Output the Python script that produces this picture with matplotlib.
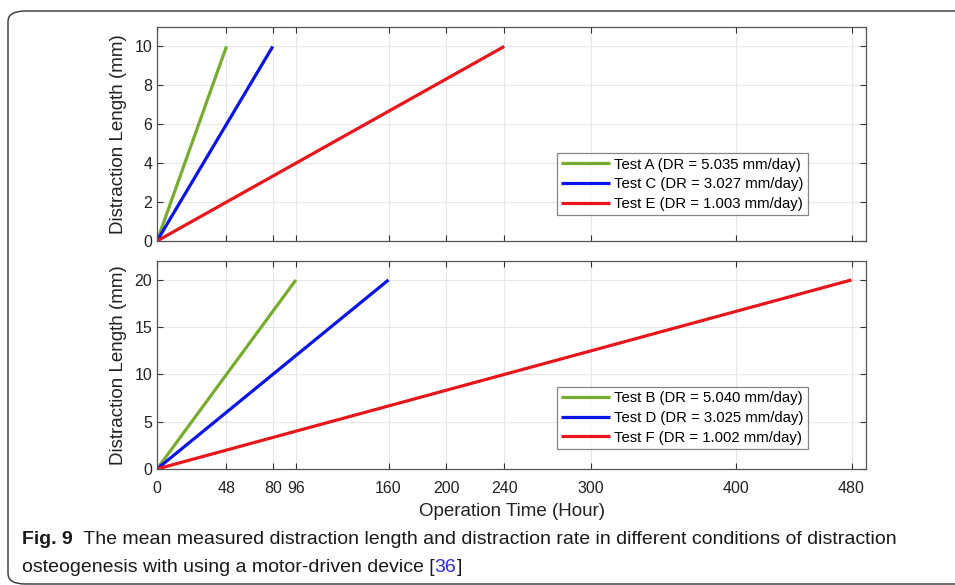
import numpy as np
import matplotlib
matplotlib.use("Agg")
from matplotlib import pyplot as plt
from matplotlib.patches import FancyBboxPatch

# data: (end time in hours, end length in mm), all start at 0
top_labels = ["Test A (DR = 5.035 mm/day)", "Test C (DR = 3.027 mm/day)", "Test E (DR = 1.003 mm/day)"]
top_hours = [48, 80, 240]
top_mm = [10, 10, 10]

bot_labels = ["Test B (DR = 5.040 mm/day)", "Test D (DR = 3.025 mm/day)", "Test F (DR = 1.002 mm/day)"]
bot_hours = [96, 160, 480]
bot_mm = [20, 20, 20]

colors = ["#77AC30", "#0A14E6", "#E8161B"]
xticks = [0, 48, 80, 96, 160, 200, 240, 300, 400, 480]

plt.rcParams['font.family'] = ['Liberation Sans', 'DejaVu Sans']

W, H = 955, 585
fig = plt.figure(figsize=(W/100, H/100), dpi=100)

# rounded frame around the whole figure (cut off on the right)
box = FancyBboxPatch((8/W, 1 - 584/H), 1.2, (584-11)/H,
                     boxstyle="round,pad=0,rounding_size=0.018",
                     transform=fig.transFigure, fc="none", ec="#333333", lw=1.0)
fig.patches.append(box)

def make_ax(rect, hours, mm, labels, ylim, yticks, show_x, leg_y):
    ax = fig.add_axes(rect)
    for h, m, lab, c in zip(hours, mm, labels, colors):
        ax.plot([0, h], [0, m], color=c, lw=2.3, label=lab, solid_capstyle="butt")
    ax.set_xlim(0, 490)
    ax.set_ylim(*ylim)
    ax.set_xticks(xticks)
    ax.set_yticks(yticks)
    ax.grid(True, color="#e6e6e6", lw=0.8)
    ax.set_axisbelow(True)
    ax.tick_params(direction="in", top=True, right=True, length=4, color="#333333",
                   labelsize=11.5, labelcolor="#222222")
    ax.tick_params(axis="x", pad=8.5)
    ax.tick_params(axis="y", pad=3.5)
    if not show_x:
        ax.tick_params(labelbottom=False)
    for s in ax.spines.values():
        s.set_color("#555555")
        s.set_linewidth(0.9)
    ax.set_ylabel("Distraction Length (mm)", fontsize=13.5, color="#222222", labelpad=5)
    leg = ax.legend(loc="lower left", bbox_to_anchor=(0.564, leg_y), fontsize=10.7, frameon=True,
                    fancybox=False, edgecolor="#666666", handlelength=3.3, handletextpad=0.25,
                    borderpad=0.3, labelspacing=0.38, borderaxespad=0)
    leg.get_frame().set_linewidth(0.9)
    return ax

ax1 = make_ax([157/W, 1 - 241/H, (866-157)/W, (241-27)/H], top_hours, top_mm, top_labels,
              (0, 11), [0, 2, 4, 6, 8, 10], False, 0.12)
ax2 = make_ax([157/W, 1 - 469/H, (866-157)/W, (469-261)/H], bot_hours, bot_mm, bot_labels,
              (0, 22), [0, 5, 10, 15, 20], True, 0.096)
ax2.set_xlabel("Operation Time (Hour)", fontsize=13.5, color="#222222", labelpad=5.5)

# caption, pieces placed one after another
renderer = fig.canvas.get_renderer()

def line_of_text(x0, ypix, parts):
    x = x0
    for s, kw in parts:
        t = fig.text(x / W, 1 - ypix / H, s, fontsize=14, va="center", **kw)
        x = t.get_window_extent(renderer).x1

dark = dict(color="#1a1a1a")
line_of_text(22, 540, [("Fig. 9", dict(fontweight="bold", **dark)),
                       ("  The mean measured distraction length and distraction rate in different conditions of distraction", dark)])
line_of_text(22, 567, [("osteogenesis with using a motor-driven device [", dark),
                       ("36", dict(color="#2a2ad8")),
                       ("]", dark)])

fig.savefig("out.png", dpi=100)
